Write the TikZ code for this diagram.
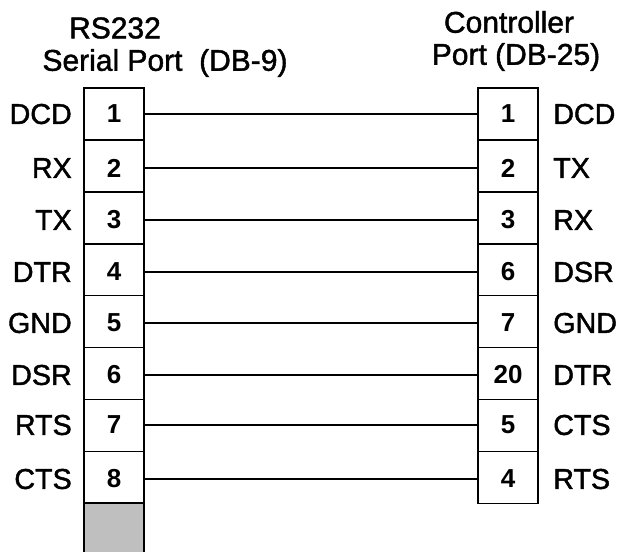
\documentclass[tikz,border=0pt]{standalone}
\usepackage{fontspec}
\setmainfont{Liberation Sans}
\newfontfamily\signalfont[FakeBold=1.5]{Liberation Sans}
\tikzset{
  pin cell/.style={draw, line width=1.1pt, minimum width=45pt, minimum height=39pt, inner sep=0pt},
  pin number/.style={font=\fontsize{19.5}{20}\selectfont\bfseries, inner sep=0pt},
  pin label/.style={font=\fontsize{21.5}{22}\signalfont, inner sep=0pt},
  port title/.style={font=\fontsize{22.5}{23}\signalfont, inner sep=0pt}
}
\begin{document}
\begin{tikzpicture}[x=.75pt,y=-.75pt]
\useasboundingbox (0,0) rectangle (621,551);

% left connector, the last cell stays empty
\foreach \n/\s/\y [count=\i from 0] in
  {1/DCD/114, 2/RX/168, 3/TX/220, 4/DTR/272, 5/GND/323, 6/DSR/375, 7/RTS/425, 8/CTS/479}{
  \node [pin cell] (left\n) at (114,114+\i*51.9) {};
  \node [pin number] (leftnum\n) at (114,\y) {\n};
  \node [pin label, anchor=east] (leftname\n) at (72,\y) {\s};
}
\node [pin cell, fill=black!25] (leftspare) at (114,529) {};

% right connector
\foreach \n/\s/\y [count=\i from 0] in
  {1/DCD/114, 2/TX/168, 3/RX/220, 6/DSR/272, 7/GND/323, 20/DTR/375, 5/CTS/425, 4/RTS/479}{
  \node [pin cell] (right\n) at (508,114+\i*51.9) {};
  \node [pin number] (rightnum\n) at (508,\y) {\n};
  \node [pin label, anchor=west] (rightname\n) at (553,\y) {\s};
}

\node [port title] (lefttitle) at (115,28) {RS232};
\node [port title] (leftport) at (165,63) {Serial Port\ \ (DB-9)};
\node [port title] (righttitle) at (509,22) {Controller};
\node [port title] (rightport) at (516,57) {Port (DB-25)};

\foreach \a/\b in {1/1,2/2,3/3,4/6,5/7,6/20,7/5,8/4}
  \draw [line width=1.1pt] (left\a.east |- leftnum\a) -- (right\b.west |- rightnum\b);
\end{tikzpicture}
\end{document}
